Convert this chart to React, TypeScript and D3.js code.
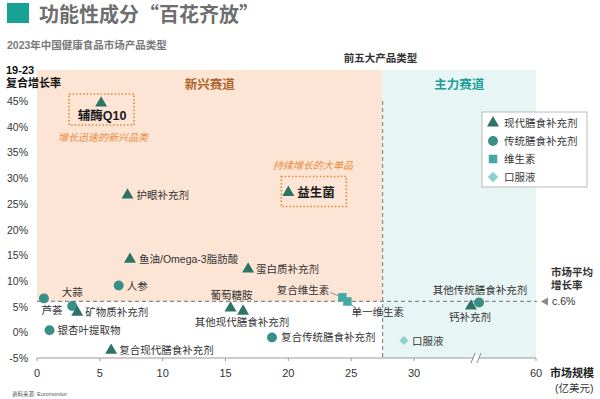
import * as d3 from 'd3'

// product categories and their values (2023 market size, 19-23 CAGR)
const names = [
  '辅酶Q10', '护眼补充剂', '益生菌', '鱼油/Omega-3脂肪酸', '蛋白质补充剂', '人参', '芦荟', '大蒜',
  '矿物质补充剂', '银杏叶提取物', '复合现代膳食补充剂', '葡萄糖胺', '其他现代膳食补充剂',
  '复合传统膳食补充剂', '复合维生素', '单一维生素', '口服液', '钙补充剂', '其他传统膳食补充剂',
]
const marketSize = [5.1, 7.2, 20.0, 7.4, 16.8, 6.5, 0.55, 2.8, 3.2, 1.0, 5.9, 15.4, 16.4, 18.7, 24.3, 24.7, 29.2, 44.0, 46.0]
const growth = [44.6, 26.7, 27.2, 14.2, 12.3, 9.1, 6.6, 5.1, 3.9, 0.4, -3.5, 4.7, 4.1, -1.0, 6.8, 6.0, -1.6, 5.1, 5.8]
const kinds = ['m', 'm', 'm', 'm', 'm', 't', 't', 't', 'm', 't', 'm', 'm', 'm', 't', 'v', 'v', 'o', 'm', 't']

const xTicks = [0, 5, 10, 15, 20, 25, 30, 60]
const yTicks = [-5, 0, 5, 10, 15, 20, 25, 30, 35, 40, 45]
const avgGrowth = 6
const splitSize = 27.5

const legendKinds = ['m', 't', 'v', 'o']
const legendLabels = ['现代膳食补充剂', '传统膳食补充剂', '维生素', '口服液']

const FONT = '"Liberation Sans", "Noto Sans CJK SC", sans-serif'
const CJK = '"Noto Sans CJK SC", sans-serif'

const kindColor: Record<string, string> = { m: '#2c7566', t: '#3a8f86', v: '#45a8a2', o: '#8dd2d1' }
const kindSymbol: Record<string, d3.SymbolType> = {
  m: d3.symbolTriangle,
  t: d3.symbolCircle,
  v: d3.symbolSquare,
  o: d3.symbolSquare, // rotated 45deg below -> diamond
}
const kindSize: Record<string, number> = { m: 62, t: 78, v: 72, o: 40 }

// label placement per point: dx, dy, anchor
const labelPos: Record<string, [number, number, string]> = {
  '辅酶Q10': [1, 17, 'middle'],
  '护眼补充剂': [9, 4, 'start'],
  '益生菌': [9, 5, 'start'],
  '鱼油/Omega-3脂肪酸': [9, 4, 'start'],
  '蛋白质补充剂': [8, 4, 'start'],
  '人参': [8, 4, 'start'],
  '芦荟': [8, 16, 'middle'],
  '大蒜': [0, -10, 'middle'],
  '矿物质补充剂': [8, 4, 'start'],
  '银杏叶提取物': [8, 4, 'start'],
  '复合现代膳食补充剂': [8, 4, 'start'],
  '葡萄糖胺': [1, -9, 'middle'],
  '其他现代膳食补充剂': [-1, 15, 'middle'],
  '复合传统膳食补充剂': [9, 4, 'start'],
  '复合维生素': [-13, -3, 'end'],
  '单一维生素': [4, 15, 'start'],
  '口服液': [8, 4, 'start'],
  '钙补充剂': [-1, 15, 'middle'],
  '其他传统膳食补充剂': [1, -8, 'middle'],
}

const x = d3.scaleLinear().domain([0, 30, 60]).range([37, 414, 536])
const y = d3.scaleLinear().domain([-5, 45]).range([358, 101])

export default function App() {
  const sym = (k: string, s?: number) => d3.symbol().type(kindSymbol[k]).size(s ?? kindSize[k])() as string
  const rot = (k: string) => (k === 'o' ? ' rotate(45)' : '')
  const top = 70
  const yAvg = y(avgGrowth)
  const xSplit = x(splitSize)
  const x60 = x(60)
  const breakX = 476

  return (
    <svg width={600} height={399} style={{ position: 'absolute', left: 0, top: 0 }} fontFamily={FONT}>
      <rect width={600} height={399} fill="#fff" />
      {/* title */}
      <rect x={7} y={3} width={22} height={20} fill="#17a294" />
      <text x={39} y={22} fontSize={20} fontWeight="bold" fill="#6e6e6e" fontFamily={CJK}>功能性成分“百花齐放”</text>
      <text x={7} y={49} fontSize={10.5} fontWeight="bold" fill="#7a7a7a">2023年中国健康食品市场产品类型</text>

      {/* zones */}
      <rect x={x(0)} y={top} width={xSplit - x(0)} height={yAvg - top} fill="#fde5d5" />
      <rect x={xSplit} y={top} width={x60 - xSplit} height={y(-5) - top} fill="#e8f5f5" />
      <text x={(x(0) + xSplit) / 2} y={89} textAnchor="middle" fontSize={12.5} fontWeight="bold" fill="#b0632a">新兴赛道</text>
      <text x={(xSplit + x60) / 2} y={89} textAnchor="middle" fontSize={12.5} fontWeight="bold" fill="#1b9e9a">主力赛道</text>
      <text x={xSplit - 2} y={62} textAnchor="middle" fontSize={10.5} fontWeight="bold" fill="#333">前五大产品类型</text>

      {/* reference lines */}
      <line x1={x(0)} x2={x60 + 1} y1={yAvg} y2={yAvg} stroke="#8a8a8a" strokeWidth={1.2} strokeDasharray="4 3" />
      <line x1={xSplit} x2={xSplit} y1={101} y2={y(-5)} stroke="#8a8a8a" strokeWidth={1.2} strokeDasharray="4 3" />

      {/* y axis */}
      <text x={6} y={74} fontSize={11} fontWeight="bold" fill="#111">19-23</text>
      <text x={6} y={87} fontSize={11} fontWeight="bold" fill="#111">复合增长率</text>
      {yTicks.map((t) => (
        <text key={t} x={28} y={y(t) + 4} textAnchor="end" fontSize={10.5} fill="#333">{t}%</text>
      ))}

      {/* x axis */}
      <line x1={x(0)} x2={x60} y1={y(-5)} y2={y(-5)} stroke="#9a9a9a" strokeWidth={1} />
      {xTicks.map((t) => (
        <g key={t}>
          <line x1={x(t)} x2={x(t)} y1={y(-5)} y2={y(-5) + 3} stroke="#9a9a9a" />
          <text x={x(t)} y={377} textAnchor="middle" fontSize={11} fill="#333">{t}</text>
        </g>
      ))}
      <rect x={breakX - 3} y={y(-5) - 2} width={6} height={4} fill="#fff" />
      <line x1={breakX - 5} x2={breakX - 1} y1={y(-5) + 5} y2={y(-5) - 5} stroke="#8a8a8a" />
      <line x1={breakX + 1} x2={breakX + 5} y1={y(-5) + 5} y2={y(-5) - 5} stroke="#8a8a8a" />
      <text x={550} y={377} fontSize={11} fontWeight="bold" fill="#222">市场规模</text>
      <text x={555} y={392} fontSize={10.5} fill="#333">(亿美元)</text>

      {/* average growth note */}
      <text x={551} y={276} fontSize={10.5} fontWeight="bold" fill="#333">市场平均</text>
      <text x={551} y={289} fontSize={10.5} fontWeight="bold" fill="#333">增长率</text>
      <path d={`M${541},${yAvg} L${548},${yAvg - 4} L${548},${yAvg + 4} Z`} fill="#8a8a8a" />
      <text x={552} y={yAvg + 4} fontSize={10.5} fill="#333">c.6%</text>

      {/* highlight boxes */}
      <rect x={x(5.1) - 32} y={y(44.6) - 9} width={65} height={31} fill="none" stroke="#e0872c" strokeWidth={1.6} strokeDasharray="1.5 2" />
      <text x={103} y={141} textAnchor="middle" fontSize={10} fontStyle="italic" fill="#ea8a3a">增长迅速的新兴品类</text>
      <rect x={x(20) - 7} y={y(27.2) - 16} width={65} height={30} fill="none" stroke="#e0872c" strokeWidth={1.6} strokeDasharray="1.5 2" />
      <text x={313} y={169} textAnchor="middle" fontSize={10} fontStyle="italic" fill="#ea8a3a">持续增长的大单品</text>

      {/* leader lines for vitamins */}
      <line x1={x(24.3) - 12} y1={y(6.8) - 5} x2={x(24.3) - 3} y2={y(6.8) - 1} stroke="#777" strokeWidth={0.8} />
      <line x1={x(24.7) + 2} y1={y(6.0) + 2} x2={x(24.7) + 8} y2={y(6.0) + 6} stroke="#777" strokeWidth={0.8} />

      {/* points */}
      {names.map((n, i) => {
        const px = x(marketSize[i])
        const py = y(growth[i])
        const [dx, dy, anchor] = labelPos[n]
        const big = n === '辅酶Q10' || n === '益生菌'
        return (
          <g key={n}>
            <path d={sym(kinds[i])} transform={`translate(${px},${py})${rot(kinds[i])}`} fill={kindColor[kinds[i]]} />
            <text
              x={px + dx}
              y={py + dy}
              textAnchor={anchor}
              fontSize={big ? 12.5 : 10.5}
              fontWeight={big ? 'bold' : 'normal'}
              fill={big ? '#1a1a1a' : '#333'}
            >
              {n}
            </text>
          </g>
        )
      })}

      {/* legend */}
      <rect x={482} y={112} width={105} height={75} fill="#fff" stroke="#aaa" strokeWidth={0.8} />
      {legendKinds.map((k, i) => (
        <g key={k} transform={`translate(493,${123 + i * 18})`}>
          <path d={sym(k, k === 'o' ? 55 : kindSize[k])} transform={rot(k).trim() || undefined} fill={kindColor[k]} />
          <text x={11} y={4} fontSize={10.5} fill="#333">{legendLabels[i]}</text>
        </g>
      ))}

      <text x={12} y={396} fontSize={5.5} fill="#555">资料来源: Euromonitor</text>
    </svg>
  )
}
